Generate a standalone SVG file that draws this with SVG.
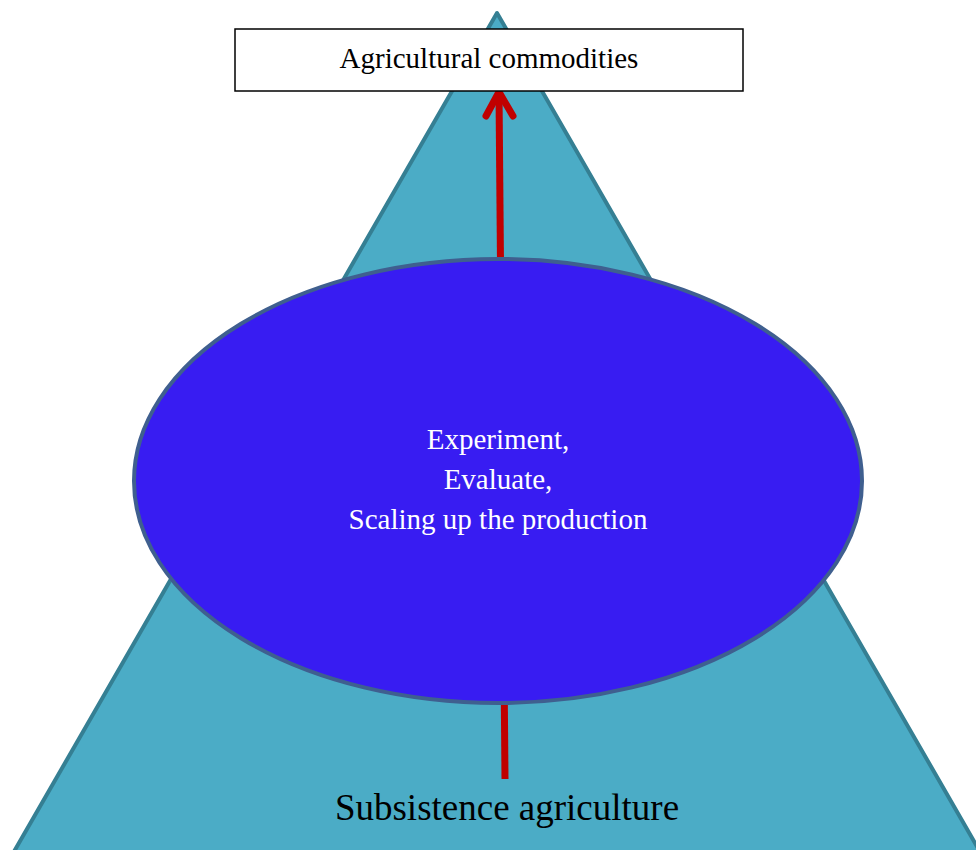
<svg xmlns="http://www.w3.org/2000/svg" width="976" height="850" viewBox="0 0 976 850">
<style>
.t{font-family:"Liberation Serif","Times New Roman",serif;text-anchor:middle}
</style>
<rect width="976" height="850" fill="#ffffff"/>
<g id="pyramid">
<polygon points="497,13 8,862 986,862" fill="#4BACC6" stroke="#357F93" stroke-width="4" stroke-linejoin="round"/>
</g>
<g id="connectors">
<line x1="505" y1="779" x2="499" y2="92" stroke="#C00000" stroke-width="7"/>
<polyline points="486,116 499,92 513,116" fill="none" stroke="#C00000" stroke-width="7" stroke-linecap="round" stroke-linejoin="round"/>
</g>
<g id="commodities">
<rect x="235" y="29" width="508" height="62" fill="#ffffff" stroke="#000000" stroke-width="1.5"/>
<text class="t" x="489" y="68" font-size="29" fill="#000000">Agricultural commodities</text>
</g>
<g id="process">
<ellipse cx="498" cy="481" rx="364" ry="222" fill="#381CF2" stroke="#3F5F8F" stroke-width="4"/>
<text class="t" x="498" y="449" font-size="29" fill="#ffffff">Experiment,</text>
<text class="t" x="498" y="489" font-size="29" fill="#ffffff">Evaluate,</text>
<text class="t" x="498" y="529" font-size="29" fill="#ffffff">Scaling up the production</text>
</g>
<g id="subsistence">
<text class="t" x="507" y="820" font-size="37" fill="#000000">Subsistence agriculture</text>
</g>
</svg>
